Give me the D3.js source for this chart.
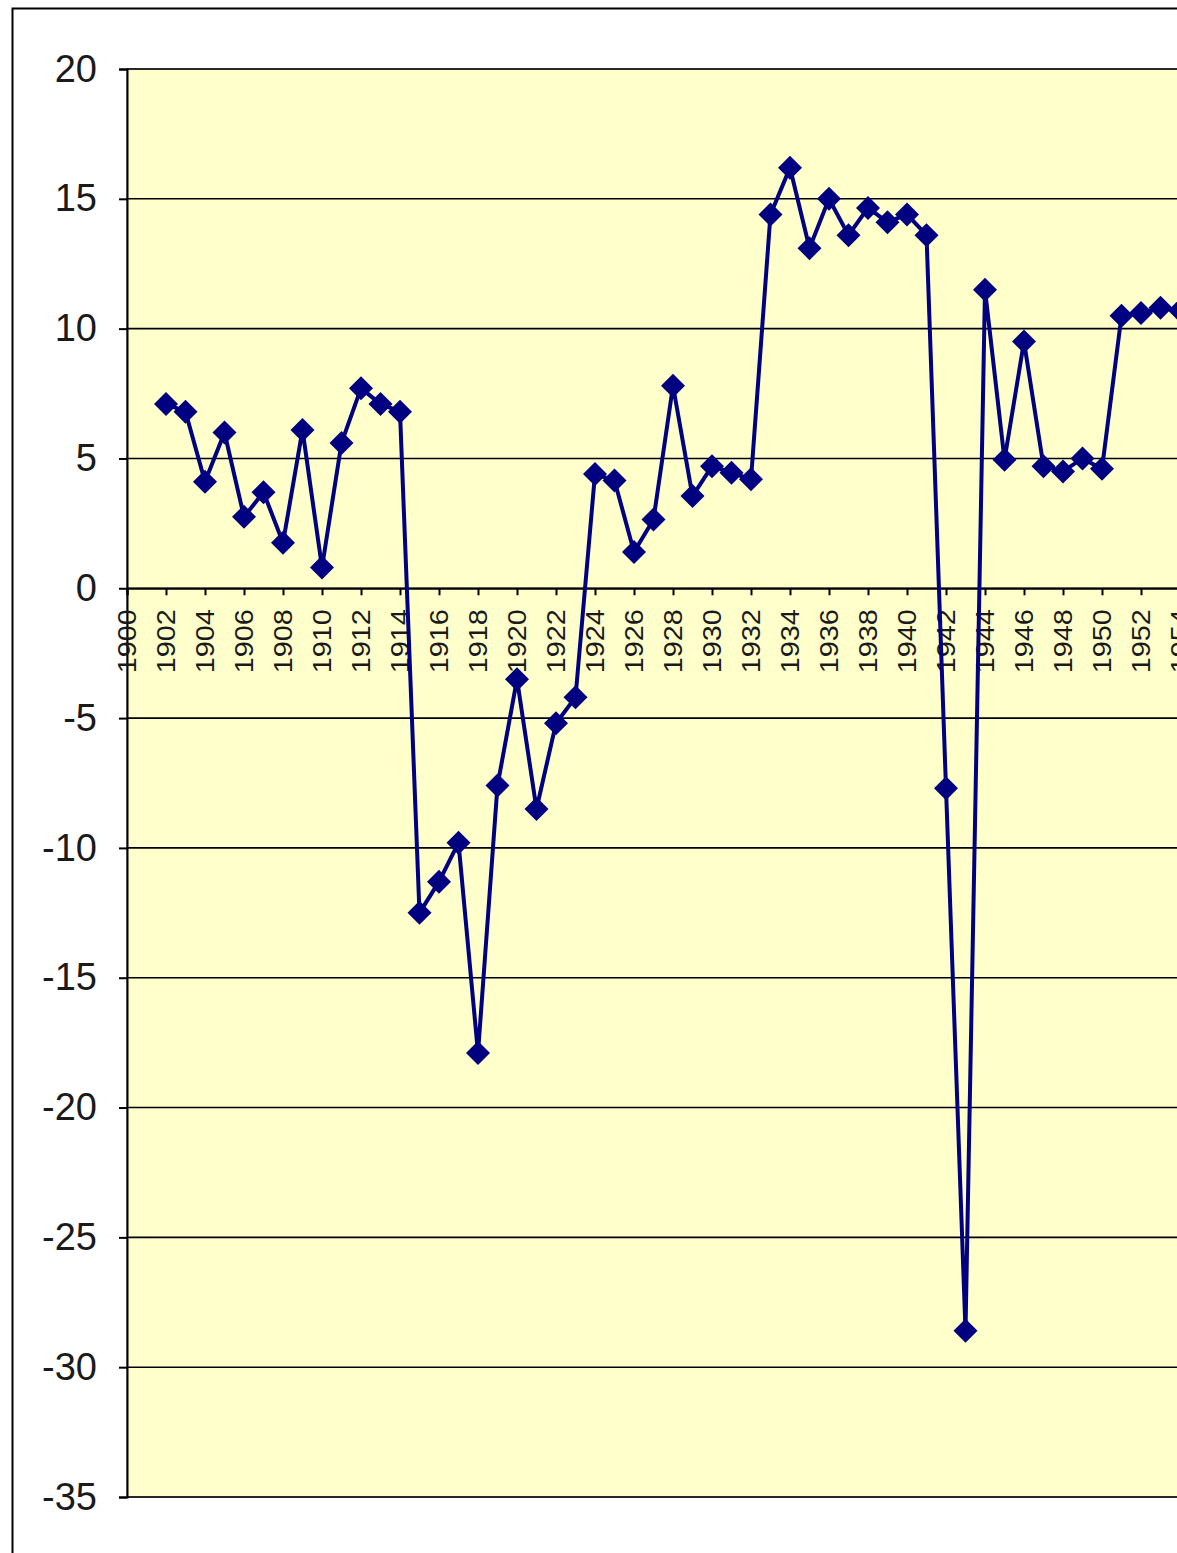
<!DOCTYPE html>
<html>
<head>
<meta charset="utf-8">
<script src="https://cdn.jsdelivr.net/npm/d3@7"></script>
<style>
  body { margin: 0; background: #fff; }
  svg { display: block; }
</style>
</head>
<body>
<div id="chart"></div>
<script>
// categories (years) on the x axis
var years = [1900, 1901, 1902, 1903, 1904, 1905, 1906, 1907, 1908, 1909,
  1910, 1911, 1912, 1913, 1914, 1915, 1916, 1917, 1918, 1919,
  1920, 1921, 1922, 1923, 1924, 1925, 1926, 1927, 1928, 1929,
  1930, 1931, 1932, 1933, 1934, 1935, 1936, 1937, 1938, 1939,
  1940, 1941, 1942, 1943, 1944, 1945, 1946, 1947, 1948, 1949,
  1950, 1951, 1952, 1953, 1954];

// series values, null where there is no point
var values = [null, null, 7.1, 6.8, 4.1, 6.0, 2.75, 3.7, 1.75, 6.1,
  0.8, 5.6, 7.7, 7.1, 6.8, -12.5, -11.3, -9.8, -17.9, -7.6,
  -3.5, -8.5, -5.2, -4.2, 4.4, 4.15, 1.4, 2.65, 7.8, 3.55,
  4.7, 4.45, 4.2, 14.4, 16.2, 13.1, 15.0, 13.6, 14.65, 14.1,
  14.4, 13.6, -7.7, -28.6, 11.5, 4.95, 9.5, 4.7, 4.5, 5.0,
  4.6, 10.5, 10.6, 10.8, 10.7];

var yTicks = [20, 15, 10, 5, 0, -5, -10, -15, -20, -25, -30, -35];

var W = 1177, H = 1553;
var plotLeft = 127, plotTop = 69, plotBottom = 1497, plotRight = 1220;

var svg = d3.select("#chart").append("svg")
  .attr("width", W)
  .attr("height", H);

// outer chart frame
svg.append("rect")
  .attr("x", 12.5).attr("y", 8.5)
  .attr("width", 1300).attr("height", 1700)
  .attr("fill", "#fff")
  .attr("stroke", "#000")
  .attr("stroke-width", 2);

var x = d3.scalePoint()
  .domain(years)
  .range([plotLeft, plotLeft + 19.5 * (years.length - 1)]);

var y = d3.scaleLinear()
  .domain([-35, 20])
  .range([plotBottom, plotTop]);

// plot area
svg.append("rect")
  .attr("x", plotLeft).attr("y", plotTop)
  .attr("width", plotRight - plotLeft).attr("height", plotBottom - plotTop)
  .attr("fill", "#ffffcc")
  .attr("stroke", "#808080")
  .attr("stroke-width", 1.5);

// gridlines
svg.append("g").selectAll("line")
  .data(yTicks)
  .enter().append("line")
  .attr("x1", plotLeft).attr("x2", plotRight)
  .attr("y1", function (d) { return y(d); })
  .attr("y2", function (d) { return y(d); })
  .attr("stroke", "#000")
  .attr("stroke-width", 1.6);

// y axis
var yAxis = d3.axisLeft(y)
  .tickValues(yTicks)
  .tickFormat(function (d) { return String(d); })
  .tickSize(8)
  .tickPadding(22);
var gy = svg.append("g")
  .attr("transform", "translate(" + plotLeft + ",0)")
  .call(yAxis);
gy.select(".domain").attr("stroke", "#000").attr("stroke-width", 2);
gy.selectAll(".tick line").attr("stroke", "#000").attr("stroke-width", 2);
gy.selectAll(".tick text")
  .attr("font-family", "'Liberation Sans Narrow', 'Liberation Sans', Arial, sans-serif")
  .attr("font-size", 38)
  .attr("fill", "#1a1a1a");

// x axis on the zero line, labelled every 2 years
var labelYears = years.filter(function (d, i) { return i % 2 === 0; });
var xAxis = d3.axisBottom(x).tickValues(labelYears).tickSize(7).tickPadding(6);
var gx = svg.append("g")
  .attr("transform", "translate(0," + y(0) + ")")
  .call(xAxis);
gx.select(".domain").attr("stroke", "#000").attr("stroke-width", 2);
gx.selectAll(".tick line").attr("stroke", "#000").attr("stroke-width", 2);
gx.selectAll(".tick text")
  .attr("font-family", "'Liberation Sans', Arial, sans-serif")
  .attr("font-size", 25)
  .attr("fill", "#1a1a1a")
  .attr("text-anchor", "end")
  .attr("dy", "0.35em")
  .attr("textLength", 64)
  .attr("lengthAdjust", "spacingAndGlyphs")
  .attr("transform", "translate(0,21) rotate(-90)")
  .attr("x", 0)
  .attr("y", 0);

// series line
var pts = years.map(function (d, i) { return { year: d, v: values[i] }; })
  .filter(function (d) { return d.v !== null; });

var line = d3.line()
  .x(function (d) { return x(d.year); })
  .y(function (d) { return y(d.v); });

svg.append("path")
  .datum(pts)
  .attr("d", line)
  .attr("fill", "none")
  .attr("stroke", "#000080")
  .attr("stroke-width", 4)
  .attr("stroke-linejoin", "miter");

// diamond markers
svg.append("g").selectAll("path")
  .data(pts)
  .enter().append("path")
  .attr("d", "M0,-12L12,0L0,12L-12,0Z")
  .attr("transform", function (d) { return "translate(" + x(d.year) + "," + y(d.v) + ")"; })
  .attr("fill", "#000080");
</script>
</body>
</html>
